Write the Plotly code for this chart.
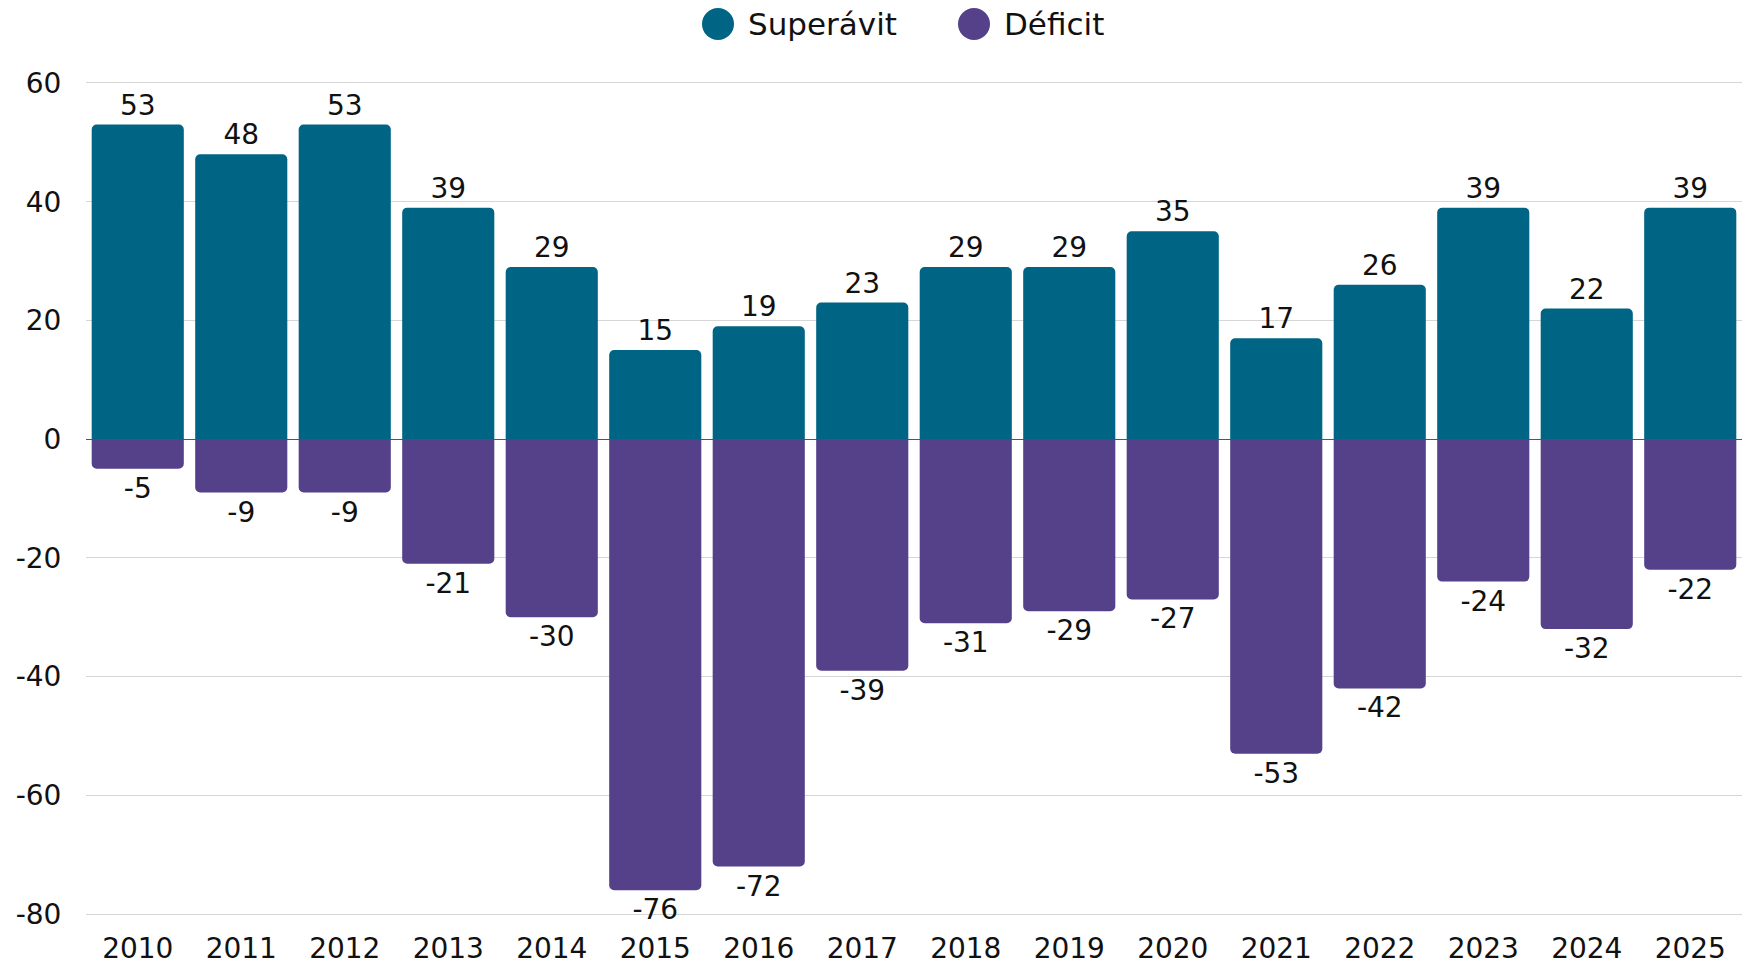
import plotly.graph_objects as go

years = ["2010","2011","2012","2013","2014","2015","2016","2017","2018","2019","2020","2021","2022","2023","2024","2025"]
superavit = [53,48,53,39,29,15,19,23,29,29,35,17,26,39,22,39]
deficit = [-5,-9,-9,-21,-30,-76,-72,-39,-31,-29,-27,-53,-42,-24,-32,-22]
series_names = ["Superávit", "Déficit"]
colors = ["#006584", "#55418a"]
y_ticks = [-80, -60, -40, -20, 0, 20, 40, 60]
y_ticktext = ["-80", "-60", "-40", "-20", "0", "20", "40", "60"]

W, H = 1742, 964
ML, MR, MT, MB = 86, 0, 80, 47
FONT = "DejaVu Sans"

fig = go.Figure()
for name, vals, col in [(series_names[0], superavit, colors[0]),
                        (series_names[1], deficit, colors[1])]:
    fig.add_trace(go.Bar(
        x=years, y=vals, name=name, marker=dict(color=col, cornerradius=5, line=dict(width=0)),
        text=[str(v) for v in vals], textposition="outside", cliponaxis=False,
        textfont=dict(size=28, color="#111111", family=FONT),
        showlegend=False,
    ))

fig.update_layout(
    width=W, height=H, barmode="overlay", bargap=0.11,
    margin=dict(l=ML, r=MR, t=MT, b=MB),
    plot_bgcolor="white", paper_bgcolor="white",
    font=dict(family=FONT, size=28, color="#111111"),
    xaxis=dict(showgrid=False, ticks="outside", ticklen=6, tickcolor="rgba(0,0,0,0)",
               tickfont=dict(size=28)),
    yaxis=dict(range=[-80.5, 60.5], tickvals=y_ticks, ticktext=y_ticktext,
               showgrid=True, gridcolor="#d6d6d6", gridwidth=1,
               zeroline=True, zerolinecolor="#555555", zerolinewidth=1,
               ticks="outside", ticklen=18, tickcolor="rgba(0,0,0,0)",
               tickfont=dict(size=28)),
)

# custom legend with large circles
plot_h = H - MT - MB
plot_w = W - ML - MR
ly = 1 + (MT - 24) / plot_h
legend_items = [(718, 746, series_names[0], colors[0]), (974, 1002, series_names[1], colors[1])]
for cx, tx, label, col in legend_items:
    fig.add_shape(type="circle", xref="paper", yref="paper",
                  xsizemode="pixel", ysizemode="pixel",
                  xanchor=(cx - ML) / plot_w, yanchor=ly,
                  x0=-16, x1=16, y0=-16, y1=16,
                  fillcolor=col, line=dict(width=0))
    fig.add_annotation(x=(tx - ML) / plot_w, y=ly, xref="paper", yref="paper",
                       text=label, showarrow=False, xanchor="left", yanchor="middle",
                       font=dict(size=31, color="#111111", family=FONT))

fig.write_html("out.html", config={"displayModeBar": False},
               post_script="document.body.style.margin='0';document.body.style.overflow='hidden';")
